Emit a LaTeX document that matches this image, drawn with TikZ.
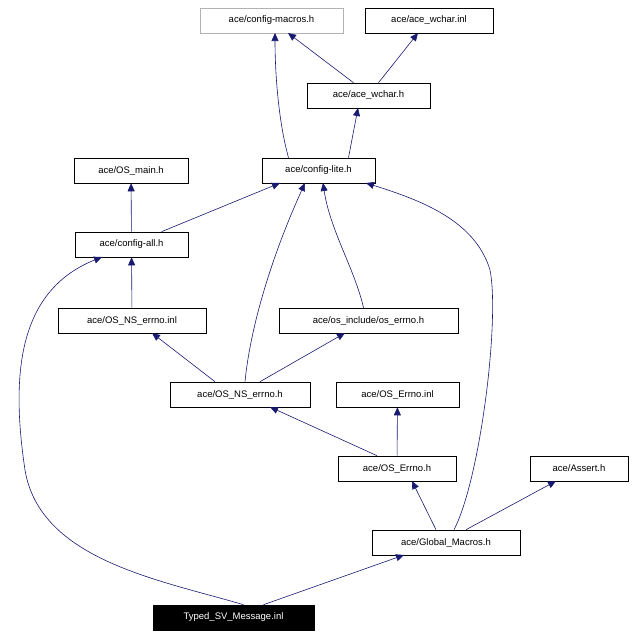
\documentclass[tikz,border=0pt]{standalone}
\usepackage{fontspec}
\setmainfont{Liberation Sans}
\usetikzlibrary{arrows.meta}
\definecolor{edge}{HTML}{191970}
\begin{document}
\begin{tikzpicture}[x=1pt,y=-1pt,
  box/.style={draw=black,fill=white,minimum height=25pt,inner sep=0pt,font=\fontsize{9.5pt}{11pt}\selectfont,line width=0.6pt},
  e/.style={draw=edge,line width=0.6pt,-{Triangle[length=8pt,width=7pt]}}]
\useasboundingbox (0,0) rectangle (635,637);
\node[box,draw=gray!60,minimum width=143pt] (cm) at (271.5,20.5) {ace/config-macros.h};
\node[box,minimum width=128pt] (wi) at (429,20.5) {ace/ace\_wchar.inl};
\node[box,minimum width=123pt] (wh) at (368.5,95.5) {ace/ace\_wchar.h};
\node[box,minimum width=114pt] (om) at (131,170.5) {ace/OS\_main.h};
\node[box,minimum width=113pt] (cl) at (318.5,170.5) {ace/config-lite.h};
\node[box,minimum width=113pt] (ca) at (131.5,244.5) {ace/config-all.h};
\node[box,minimum width=148pt] (nei) at (132,320.5) {ace/OS\_NS\_errno.inl};
\node[box,minimum width=179pt] (oe) at (368.5,320.5) {ace/os\_include/os\_errno.h};
\node[box,minimum width=140pt] (neh) at (240,394.5) {ace/OS\_NS\_errno.h};
\node[box,minimum width=123pt] (ei) at (397.5,394.5) {ace/OS\_Errno.inl};
\node[box,minimum width=118pt] (eh) at (397,468.5) {ace/OS\_Errno.h};
\node[box,minimum width=98pt] (as) at (579,468.5) {ace/Assert.h};
\node[box,minimum width=148pt] (gm) at (446,542.5) {ace/Global\_Macros.h};
\node[box,fill=black,text=white,minimum width=161pt] (ts) at (233.5,617.5) {Typed\_SV\_Message.inl};

\draw[e] (wh.north) ++(-15,0) -- (288,33);
\draw[e] (wh.north) ++(10,0) -- (418,33);
\draw[e] (cl.north) ++(-30,0) .. controls (278,120) and (275,70) .. (275,33);
\draw[e] (cl.north) ++(30,0) -- (358,108);
\draw[e] (ca) -- (om);
\draw[e] (ca.north) ++(30,0) -- (280,183);
\draw[e] (nei) -- (ca);
\draw[e] (neh.north) ++(-25,0) -- (152,333);
\draw[e] (neh.north) ++(20,0) -- (345,333);
\draw[e] (neh.north) ++(5,0) .. controls (250,330) and (270,260) .. (305,183);
\draw[e] (oe.north) ++(-5,0) .. controls (355,270) and (330,230) .. (323,183);
\draw[e] (eh.north) ++(-20,0) -- (270,407);
\draw[e] (eh) -- (ei);
\draw[e] (gm.north) ++(-10,0) -- (412,481);
\draw[e] (gm.north) ++(20,0) -- (556,481);
\draw[e] (gm.north) ++(8,0) .. controls (480,480) and (500,320) .. (490,270) .. controls (475,220) and (420,200) .. (366,183);
\draw[e] (ts.north) ++(30,0) -- (404,555);
\draw[e] (ts.north) ++(10,0) .. controls (160,580) and (40,560) .. (25,470) .. controls (10,370) and (20,290) .. (102,257);
\end{tikzpicture}
\end{document}
